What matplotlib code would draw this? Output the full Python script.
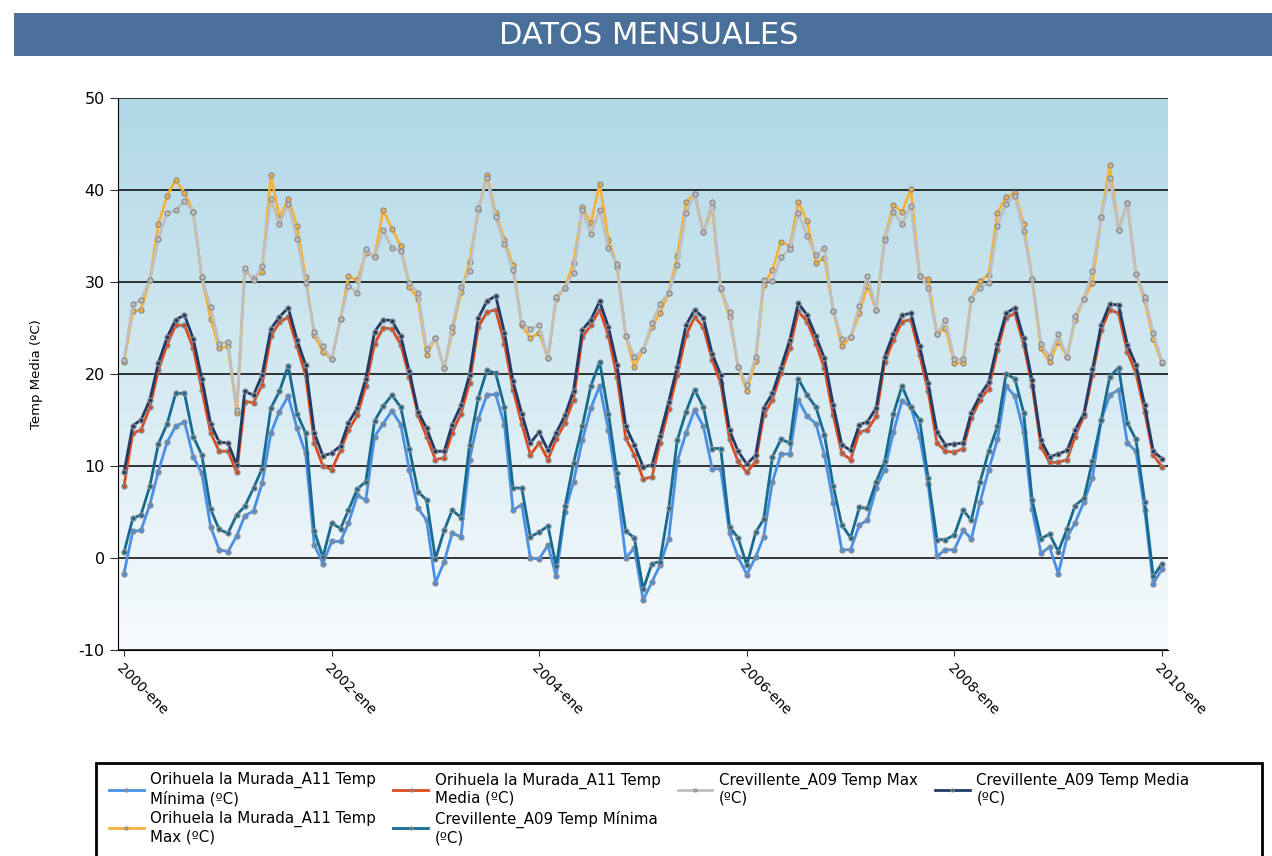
import numpy as np
import pandas as pd
import matplotlib
matplotlib.use("Agg")
import matplotlib.pyplot as plt
from matplotlib.patches import Rectangle

plt.rcParams["axes.unicode_minus"] = False

# monthly series, 2000-ene .. 2010-ene (121 points)
ori_min = [-1.7, 2.9, 3.0, 5.8, 9.4, 12.6, 14.3, 14.8, 11.0, 9.2, 3.4, 0.9,
           0.7, 2.4, 4.6, 5.1, 8.1, 13.6, 15.9, 17.6, 14.1, 11.4, 1.4, -0.6,
           1.8, 1.8, 3.8, 6.8, 6.3, 13.2, 14.6, 16.0, 14.5, 9.6, 5.4, 4.1,
           -2.7, -0.4, 2.7, 2.3, 10.7, 15.1, 17.7, 17.8, 14.5, 5.2, 5.8, 0.0,
           -0.1, 1.4, -2.0, 5.0, 8.3, 12.8, 16.3, 18.7, 13.9, 7.8, 0.0, 1.1,
           -4.6, -2.6, -0.8, 2.1, 10.5, 13.6, 16.1, 14.3, 9.7, 9.7, 2.7, 0.1,
           -1.8, 0.1, 2.3, 8.3, 11.3, 11.3, 17.2, 15.4, 14.6, 11.2, 6.0, 0.9,
           0.9, 3.6, 4.1, 7.6, 9.6, 13.7, 17.1, 16.4, 13.2, 8.0, 0.2, 0.9,
           0.9, 3.0, 2.1, 6.1, 9.6, 12.9, 18.7, 17.6, 13.7, 5.3, 0.5, 1.2,
           -1.7, 2.3, 3.8, 6.1, 8.7, 15.0, 17.7, 18.3, 12.5, 11.6, 5.2, -2.8,
           -1.2]
ori_max = [21.3, 26.8, 27.0, 30.2, 36.3, 39.4, 41.1, 39.7, 37.6, 30.5, 26.0, 22.8,
           23.0, 15.8, 31.2, 30.4, 31.1, 41.6, 37.0, 39.0, 36.1, 30.5, 24.2, 22.4,
           21.6, 26.0, 30.6, 30.2, 33.1, 32.8, 37.8, 35.8, 33.9, 29.5, 28.1, 22.1,
           23.9, 20.6, 24.6, 28.9, 32.2, 37.8, 41.6, 37.5, 34.6, 31.8, 25.3, 23.9,
           24.5, 21.7, 28.2, 29.4, 32.1, 38.1, 36.4, 40.7, 34.6, 31.6, 24.1, 20.8,
           22.6, 25.1, 26.6, 28.8, 32.8, 38.7, 39.6, 35.4, 38.1, 29.2, 26.2, 20.8,
           18.2, 21.4, 29.7, 31.3, 34.4, 33.9, 38.7, 36.6, 32.1, 32.6, 26.9, 23.0,
           24.0, 26.6, 29.6, 27.0, 34.8, 38.4, 37.6, 40.1, 30.7, 30.3, 24.3, 25.0,
           21.2, 21.2, 28.2, 30.1, 30.8, 37.5, 39.2, 39.7, 36.3, 30.3, 22.8, 21.3,
           23.5, 21.9, 25.9, 28.2, 29.9, 37.1, 42.7, 35.7, 38.6, 30.9, 28.0, 23.8,
           21.2]
ori_media = [7.8, 13.6, 13.9, 16.4, 20.4, 23.2, 25.3, 25.3, 22.8, 18.3, 13.6, 11.6,
             11.6, 9.3, 17.0, 16.9, 18.8, 24.1, 25.6, 26.2, 23.0, 19.9, 12.5, 10.0,
             9.6, 11.7, 13.9, 15.5, 18.7, 23.3, 25.0, 24.9, 23.2, 19.7, 15.5, 13.2,
             10.7, 10.9, 13.6, 15.7, 19.0, 25.1, 26.7, 27.0, 23.3, 18.3, 14.6, 11.2,
             12.5, 10.7, 12.9, 14.7, 17.2, 24.0, 25.3, 27.0, 24.1, 19.7, 13.0, 11.2,
             8.6, 8.8, 12.5, 16.2, 19.9, 24.2, 26.2, 25.1, 21.5, 19.0, 12.9, 10.5,
             9.3, 10.5, 15.5, 17.2, 20.1, 22.8, 26.8, 25.7, 23.3, 20.6, 15.5, 11.4,
             10.7, 13.7, 13.9, 15.4, 21.3, 23.7, 25.7, 25.9, 22.1, 18.1, 12.5, 11.6,
             11.5, 11.9, 15.2, 17.2, 18.4, 22.6, 26.1, 26.6, 23.2, 18.7, 12.1, 10.4,
             10.4, 10.7, 13.2, 15.4, 19.9, 24.8, 27.0, 26.6, 22.4, 20.1, 15.9, 11.2,
             9.9]
crev_min = [0.6, 4.3, 4.7, 7.8, 12.4, 14.6, 17.9, 17.9, 13.2, 11.2, 5.3, 3.1,
            2.7, 4.7, 5.6, 7.6, 9.7, 16.3, 18.1, 20.9, 15.7, 13.6, 2.9, 0.1,
            3.8, 3.2, 5.2, 7.5, 8.3, 14.9, 16.5, 17.7, 16.4, 11.9, 7.2, 6.3,
            -0.1, 3.0, 5.2, 4.4, 12.3, 17.4, 20.4, 20.1, 16.4, 7.6, 7.6, 2.3,
            2.8, 3.5, -0.9, 5.6, 10.3, 14.3, 18.7, 21.3, 15.7, 9.2, 2.9, 2.2,
            -3.4, -0.6, -0.4, 5.4, 12.8, 15.9, 18.3, 16.4, 11.9, 11.9, 3.4, 2.2,
            -0.8, 2.8, 4.2, 11.0, 12.9, 12.5, 19.5, 17.7, 16.4, 13.4, 7.8, 3.6,
            2.2, 5.5, 5.4, 8.3, 10.5, 15.7, 18.7, 16.4, 15.0, 8.7, 2.0, 2.0,
            2.5, 5.2, 4.1, 8.3, 11.6, 14.3, 20.0, 19.5, 15.8, 6.3, 2.1, 2.6,
            0.7, 3.2, 5.7, 6.5, 10.5, 15.0, 19.7, 20.7, 14.7, 12.9, 6.1, -2.0,
            -0.6]
crev_max = [21.5, 27.6, 28.0, 30.2, 34.7, 37.5, 37.8, 38.8, 37.6, 30.5, 27.3, 23.3,
            23.5, 16.1, 31.5, 30.2, 31.7, 39.0, 36.3, 38.5, 34.7, 29.9, 24.6, 23.0,
            21.6, 26.0, 29.6, 28.8, 33.6, 32.7, 35.6, 33.7, 33.4, 29.9, 28.8, 22.7,
            23.9, 20.6, 25.1, 29.5, 31.2, 38.0, 41.3, 37.1, 34.1, 31.3, 25.5, 24.9,
            25.3, 21.7, 28.4, 29.4, 31.0, 37.8, 35.2, 37.8, 33.7, 32.0, 24.1, 21.9,
            22.6, 25.5, 27.6, 28.8, 31.8, 37.5, 39.6, 35.4, 38.7, 29.4, 26.7, 20.8,
            18.8, 21.9, 30.2, 30.1, 32.7, 33.6, 37.5, 35.0, 32.9, 33.7, 26.9, 23.8,
            24.0, 27.4, 30.7, 27.0, 34.6, 37.6, 36.3, 38.3, 30.7, 29.4, 24.3, 25.9,
            21.6, 21.6, 28.2, 29.4, 29.9, 36.1, 38.5, 39.4, 35.5, 30.3, 23.3, 21.9,
            24.3, 21.9, 26.3, 28.2, 31.2, 37.1, 41.3, 35.7, 38.6, 30.9, 28.4, 24.5,
            21.3]
crev_media = [9.3, 14.4, 15.0, 17.2, 21.2, 24.0, 25.9, 26.4, 23.8, 19.5, 14.6, 12.6,
              12.5, 10.1, 18.1, 17.7, 19.9, 24.9, 26.2, 27.2, 23.7, 21.0, 13.6, 11.1,
              11.4, 12.2, 14.7, 16.3, 19.5, 24.6, 25.9, 25.8, 24.1, 20.3, 15.9, 14.1,
              11.6, 11.6, 14.5, 16.6, 19.9, 26.1, 27.9, 28.5, 24.5, 19.2, 15.7, 12.5,
              13.7, 11.7, 13.6, 15.5, 18.2, 24.8, 25.9, 27.9, 25.1, 21.0, 14.3, 12.3,
              9.9, 10.1, 13.3, 17.0, 20.8, 25.3, 27.0, 26.1, 22.2, 19.9, 13.9, 11.6,
              10.2, 11.2, 16.3, 17.9, 20.7, 23.7, 27.7, 26.4, 24.1, 21.7, 16.6, 12.3,
              11.7, 14.5, 14.8, 16.3, 21.9, 24.4, 26.4, 26.6, 23.0, 19.0, 13.7, 12.3,
              12.4, 12.5, 15.8, 17.7, 19.1, 23.3, 26.6, 27.2, 23.9, 19.3, 12.8, 11.0,
              11.3, 11.7, 13.9, 15.7, 20.5, 25.3, 27.6, 27.5, 23.2, 21.0, 16.6, 11.6,
              10.8]

labels = [
    "Orihuela la Murada_A11 Temp\nMínima (ºC)",
    "Orihuela la Murada_A11 Temp\nMax (ºC)",
    "Orihuela la Murada_A11 Temp\nMedia (ºC)",
    "Crevillente_A09 Temp Mínima\n(ºC)",
    "Crevillente_A09 Temp Max\n(ºC)",
    "Crevillente_A09 Temp Media\n(ºC)",
]
colors = ["#4a8fe6", "#f7b23b", "#dc4a1e", "#176b8f", "#bfbfbf", "#233a66"]
series = [ori_min, ori_max, ori_media, crev_min, crev_max, crev_media]

dates = pd.date_range("2000-01-01", periods=len(ori_min), freq="MS")
tick_dates = pd.date_range("2000-01-01", "2010-01-01", freq="24MS")
tick_labels = [f"{d.year}-ene" for d in tick_dates]

W, H = 1272, 856
fig = plt.figure(figsize=(W / 100, H / 100), dpi=100)

# title bar
fig.patches.append(Rectangle((14 / W, 1 - 56 / H), 1 - 14 / W, 43 / H,
                             transform=fig.transFigure, facecolor="#4a6f98",
                             edgecolor="none"))
fig.text(649 / W, 1 - 35 / H, "DATOS MENSUALES", color="white",
         fontsize=22, ha="center", va="center", family="DejaVu Sans")

ax = fig.add_axes([118 / W, 1 - 650 / H, 1050 / W, 552 / H])

# background gradient, light blue at top to almost white at bottom
top = np.array([176, 216, 230]) / 255
bot = np.array([248, 251, 253]) / 255
t = np.linspace(0, 1, 256)[:, None]
grad = top * (1 - t) + bot * t
ax.imshow(grad[:, None, :], aspect="auto", extent=(0, 1, 0, 1),
          transform=ax.transAxes, zorder=0)

for vals, lab, col in zip(series, labels, colors):
    ax.plot(dates, vals, color=col, lw=2.0, label=lab, marker="o", ms=3.6,
            mfc=col, mec="#8c8c8c", mew=0.9, zorder=3)

ax.set_ylim(-10, 50)
ax.set_yticks(range(-10, 51, 10))
ax.set_xlim(pd.Timestamp("1999-12-11"), pd.Timestamp("2010-01-22"))
ax.set_xticks(tick_dates)
ax.set_xticklabels(tick_labels, rotation=-45, ha="left", va="top",
                   rotation_mode="anchor", fontsize=10)
ax.tick_params(axis="y", labelsize=11.5, length=6, color="#333333")
ax.tick_params(axis="x", length=4, color="#333333", pad=4)
ax.grid(axis="y", color="black", lw=1.1, zorder=1)
ax.set_axisbelow(True)
for s in ["top", "right"]:
    ax.spines[s].set_visible(False)
ax.spines["left"].set_color("black")
ax.spines["bottom"].set_color("black")
ax.set_ylabel("Temp Media (ºC)", fontsize=9.5, labelpad=26)

# legend box runs off the bottom of the image
fig.patches.append(Rectangle((96 / W, -20 / H), (1262 - 96) / W, (856 - 763 + 20) / H,
                             transform=fig.transFigure, facecolor="white",
                             edgecolor="black", lw=2))
leg = fig.legend(loc="upper left", ncol=4, bbox_to_anchor=(109 / W, 1 - 772 / H),
                 fontsize=10.8, frameon=False, borderpad=0, borderaxespad=0,
                 handlelength=2.3, handletextpad=0.45, labelspacing=0.3,
                 columnspacing=1.15, markerscale=0.6)

fig.savefig("out.png", dpi=100)
